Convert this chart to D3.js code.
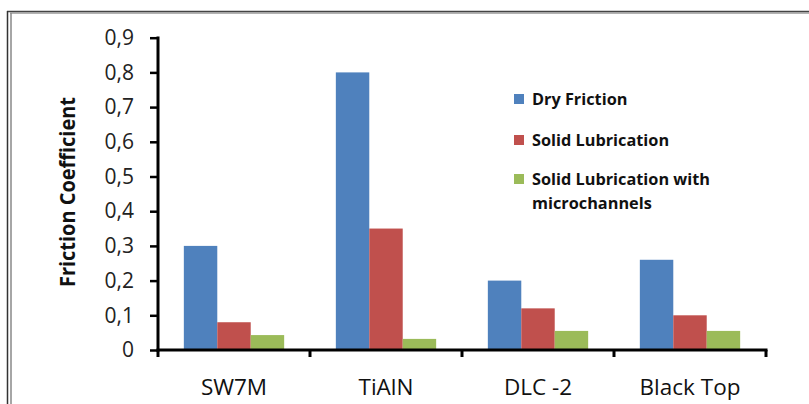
<!DOCTYPE html>
<html><head><meta charset="utf-8">
<script src="https://cdn.jsdelivr.net/npm/d3@7"></script>
<style>body{margin:0;background:#fff}svg{display:block}</style>
</head><body>
<svg id="c" width="809" height="404"></svg>
<script>
const categories = ["SW7M", "TiAlN", "DLC -2", "Black Top"];
const seriesNames = ["Dry Friction", "Solid Lubrication", "Solid Lubrication with microchannels"];
const dryFriction = [0.30, 0.80, 0.20, 0.26];
const solidLubrication = [0.08, 0.35, 0.12, 0.10];
const solidLubricationMicro = [0.043, 0.032, 0.055, 0.055];
const yTicks = [0, 0.1, 0.2, 0.3, 0.4, 0.5, 0.6, 0.7, 0.8, 0.9];
const colors = ["#4F81BD", "#C0504D", "#9BBB59"];
const seriesValues = [dryFriction, solidLubrication, solidLubricationMicro];

const svg = d3.select("#c");
const font = "'Open Sans', sans-serif";

// frame
svg.append("line").attr("x1",7).attr("x2",809).attr("y1",11.5).attr("y2",11.5).attr("stroke","#444").attr("stroke-width",1.5);
svg.append("line").attr("x1",10).attr("x2",809).attr("y1",13).attr("y2",13).attr("stroke","#999").attr("stroke-width",1.5);
svg.append("line").attr("x1",7.5).attr("x2",7.5).attr("y1",11).attr("y2",404).attr("stroke","#333").attr("stroke-width",1.5);
svg.append("line").attr("x1",11).attr("x2",11).attr("y1",13).attr("y2",404).attr("stroke","#888").attr("stroke-width",1.5);

const y = d3.scaleLinear().domain([0, 0.9]).range([350, 37.7]);
const x0 = d3.scaleBand().domain(categories).range([158, 766]).padding(0);
const inset = x0.bandwidth() * 0.17;
const x1 = d3.scaleBand().domain(seriesNames).range([inset, x0.bandwidth() - inset]).padding(0);

// bars
const g = svg.append("g");
categories.forEach((c, ci) => {
  seriesNames.forEach((s, si) => {
    const v = seriesValues[si][ci];
    g.append("rect")
      .attr("x", x0(c) + x1(s))
      .attr("y", y(v))
      .attr("width", x1.bandwidth())
      .attr("height", y(0) - y(v))
      .attr("fill", colors[si]);
  });
});

// y axis
const yAxis = svg.append("g").attr("transform","translate(158,0)")
  .call(d3.axisLeft(y).tickValues(yTicks).tickSize(8).tickPadding(16)
    .tickFormat(d => d === 0 ? "0" : d3.format(".1f")(d).replace(".", ",")));
yAxis.select(".domain").attr("stroke","#000").attr("stroke-width",3).attr("d","M0,36.5V351.5");
yAxis.selectAll(".tick line").attr("stroke","#000").attr("stroke-width",2.5);
yAxis.selectAll(".tick text").attr("font-family",font).attr("font-size",21).attr("fill","#222");

// x axis
const xAxis = svg.append("g").attr("transform","translate(0,350)")
  .call(d3.axisBottom(x0).tickSize(0).tickPadding(29));
xAxis.select(".domain").attr("stroke","#000").attr("stroke-width",3).attr("d","M156.5,0H767.5");
xAxis.selectAll(".tick text").attr("font-family",font).attr("font-size",22.5).attr("fill","#111");
// category boundary ticks
const bounds = categories.map(c => x0(c)).concat([x0.range()[1]]);
svg.append("g").selectAll("line").data(bounds).join("line")
  .attr("x1", d => d).attr("x2", d => d).attr("y1", 350).attr("y2", 357)
  .attr("stroke","#000").attr("stroke-width",3);

// y title
svg.append("text").attr("transform","translate(75,192) rotate(-90)")
  .attr("text-anchor","middle").attr("font-family",font).attr("font-weight","bold")
  .attr("font-size",20.5).attr("textLength",190).attr("lengthAdjust","spacingAndGlyphs")
  .attr("fill","#111").text("Friction Coefficient");

// legend
const legY = [99, 140, 179];
const legLines = [["Dry Friction"], ["Solid Lubrication"], ["Solid Lubrication with", "microchannels"]];
const leg = svg.append("g");
seriesNames.forEach((s, i) => {
  leg.append("rect").attr("x",514).attr("y",legY[i]-5).attr("width",10).attr("height",10).attr("fill",colors[i]);
  const t = leg.append("text").attr("x",532).attr("y",legY[i]+6).attr("font-family",font)
    .attr("font-weight","bold").attr("font-size",16.3).attr("fill","#111");
  legLines[i].forEach((ln, k) => t.append("tspan").attr("x",532).attr("dy", k===0?0:24).text(ln));
});
</script>
</body></html>
